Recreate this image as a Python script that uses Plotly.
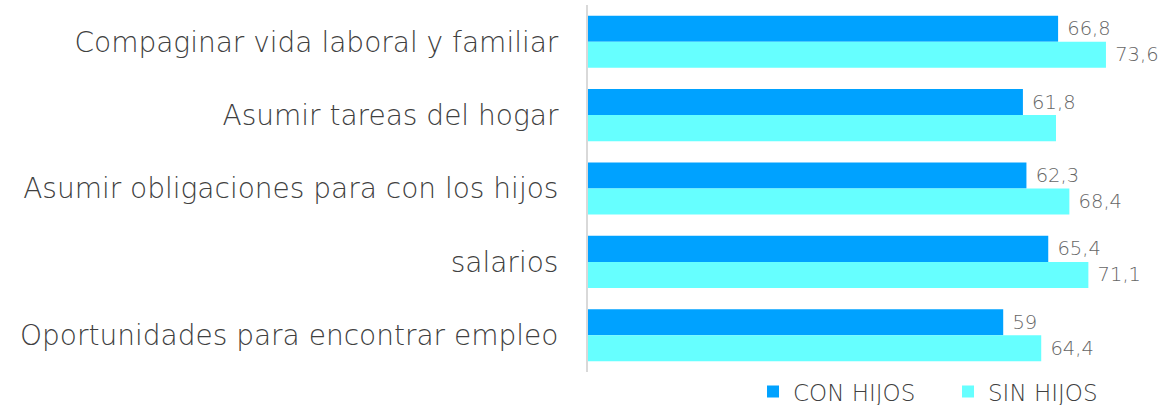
import plotly.graph_objects as go

# Categories listed top to bottom
categorias = [
    "Compaginar vida laboral y familiar",
    "Asumir tareas del hogar",
    "Asumir obligaciones para con los hijos",
    "salarios",
    "Oportunidades para encontrar empleo",
]
con_hijos = [66.8, 61.8, 62.3, 65.4, 59.0]
sin_hijos = [73.6, 66.5, 68.4, 71.1, 64.4]
# Which SIN HIJOS bars carry a value label
sin_hijos_etiqueta = [True, False, True, True, True]

COLOR_CON = "#00A2FF"
COLOR_SIN = "#66FFFF"
FONT = "DejaVu Sans"


def fmt(v):
    # decimal comma, leading no-break space as a small gap after the bar
    return "\u00a0" + f"{v:g}".replace(".", ",")


texto_con = [fmt(v) for v in con_hijos]
texto_sin = [fmt(v) if s else "" for v, s in zip(sin_hijos, sin_hijos_etiqueta)]

fig = go.Figure()
fig.add_trace(go.Bar(
    y=categorias, x=con_hijos, orientation="h", name="CON HIJOS",
    marker=dict(color=COLOR_CON, line=dict(width=0)),
    text=texto_con, textposition="outside", cliponaxis=False,
    textfont=dict(family=FONT, size=19.5, color="#666666", weight=300),
))
fig.add_trace(go.Bar(
    y=categorias, x=sin_hijos, orientation="h", name="SIN HIJOS",
    marker=dict(color=COLOR_SIN, line=dict(width=0)),
    text=texto_sin, textposition="outside", cliponaxis=False,
    textfont=dict(family=FONT, size=19.5, color="#666666", weight=300),
))

fig.update_layout(
    width=1170, height=405,
    margin=dict(l=588, r=19, t=5, b=33, autoexpand=False),
    paper_bgcolor="white", plot_bgcolor="white",
    barmode="group", bargap=0.29, bargroupgap=0,
    font=dict(family=FONT, color="#404040"),
    showlegend=True,
    legend=dict(
        orientation="h", xref="container", yref="container",
        x=0.6436, xanchor="left", y=0.033, yanchor="middle",
        font=dict(family=FONT, size=23, color="#404040", weight=300),
        itemwidth=30, entrywidth=150, traceorder="normal",
    ),
    xaxis=dict(range=[0, 80], showticklabels=False, showgrid=False,
               zeroline=False, showline=False),
    yaxis=dict(autorange="reversed", showline=True, linecolor="#D9D9D9",
               linewidth=2, showgrid=False, ticks="", automargin=False,
               ticklabelstandoff=22,
               tickfont=dict(family=FONT, size=28, color="#404040", weight=300)),
)

fig.write_html("out.html")
